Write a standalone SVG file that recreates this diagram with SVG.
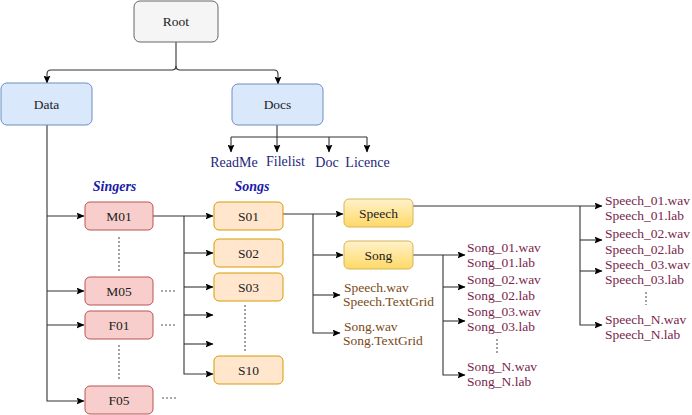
<svg xmlns="http://www.w3.org/2000/svg" width="692" height="415" viewBox="0 0 692 415" font-family="'Liberation Serif', Tinos, 'Times New Roman', 'DejaVu Serif', serif">
<defs>
<marker id="ah" markerWidth="8" markerHeight="7" refX="7.5" refY="3.5" orient="auto" markerUnits="userSpaceOnUse">
<path d="M0,0 L8,3.5 L0,7 L1.5,3.5 z" fill="#000"/>
</marker>
<linearGradient id="yg" x1="0" y1="0" x2="0" y2="1">
<stop offset="0" stop-color="#fff2cc"/>
<stop offset="1" stop-color="#ffd966"/>
</linearGradient>
<style>
text{font-family:'Liberation Serif', Tinos, 'Times New Roman', 'DejaVu Serif', serif}
.c{fill:none;stroke:#333;stroke-width:1.1}
.a{marker-end:url(#ah)}
.d{fill:none;stroke:#555;stroke-width:1.1;stroke-dasharray:2,2}
.t{font-size:13.5px;fill:#222;text-anchor:middle;dominant-baseline:central}
.root{fill:#f5f5f5;stroke:#666;stroke-width:1}
.blue{fill:#dae8fc;stroke:#6c8ebf;stroke-width:1}
.red{fill:#f8cecc;stroke:#b85450;stroke-width:1}
.org{fill:#ffe6cc;stroke:#d79b00;stroke-width:1}
.yel{fill:url(#yg);stroke:#d6b656;stroke-width:1}
.doc{font-size:14px;fill:#1f1f7a;text-anchor:middle}
.hd{font-size:14px;font-weight:bold;font-style:italic;fill:#1a1aa8;text-anchor:middle}
.br{font-size:13.5px;fill:#7a4a16}
.mr{font-size:13.5px;fill:#7a1f4c}
</style>
</defs>

<g id="connectors">
<path class="c a" d="M176,42 V66 Q176,70 172,70 H51 Q47,70 47,74 V83"/>
<path class="c a" d="M176,66 Q176,70 180,70 H274 Q278,70 278,74 V84"/>
<path class="c a" d="M277,125 V152"/>
<path class="c" d="M231,137 H367"/>
<path class="c a" d="M231,137 V152"/>
<path class="c a" d="M329,137 V152"/>
<path class="c a" d="M367,137 V152"/>
<path class="c a" d="M47,125 V401 H84"/>
<path class="c a" d="M47,216 H84"/>
<path class="c a" d="M47,291 H84"/>
<path class="c a" d="M47,325 H84"/>
<path class="c a" d="M153,216 H213"/>
<path class="c a" d="M184,216 V374 H213"/>
<path class="c a" d="M184,253 H213"/>
<path class="c a" d="M184,287 H213"/>
<path class="c a" d="M184,315 H213"/>
<path class="c a" d="M184,344 H213"/>
<path class="c a" d="M283,214 H343"/>
<path class="c a" d="M313,214 V333 H340"/>
<path class="c a" d="M313,255 H343"/>
<path class="c a" d="M313,295 H340"/>
<path class="c a" d="M413,206 H602"/>
<path class="c a" d="M580,206 V325 H602"/>
<path class="c a" d="M580,240 H602"/>
<path class="c a" d="M580,271 H602"/>
<path class="c a" d="M413,255 H465"/>
<path class="c a" d="M443,255 V375 H465"/>
<path class="c a" d="M443,287 H465"/>
<path class="c a" d="M443,321 H465"/>
<path class="d" d="M119,237 V272"/>
<path class="d" d="M119,345 V381"/>
<path class="d" d="M245,305 V352"/>
<path class="d" d="M161,291 H177"/>
<path class="d" d="M161,325 H177"/>
<path class="d" d="M162,398 H178"/>
<path class="d" d="M497,339 V354"/>
<path class="d" d="M646,292 V305"/>
</g>

<g id="root"><rect class="root" x="134" y="1" width="84" height="41" rx="6"/><text class="t" x="176" y="21.5">Root</text></g>
<g id="data"><rect class="blue" x="1" y="83" width="91" height="42" rx="6"/><text class="t" x="46.5" y="104">Data</text></g>
<g id="docs"><rect class="blue" x="232" y="84" width="91" height="41" rx="6"/><text class="t" x="277.5" y="104.5">Docs</text></g>

<g id="docfiles">
<text class="doc" x="234" y="167">ReadMe</text>
<text class="doc" x="285.5" y="166">Filelist</text>
<text class="doc" x="327" y="167">Doc</text>
<text class="doc" x="367.5" y="167">Licence</text>
</g>

<g id="labels">
<text class="hd" x="114.5" y="191">Singers</text>
<text class="hd" x="252" y="191">Songs</text>
</g>

<g id="m01"><rect class="red" x="85" y="202" width="68" height="28" rx="5"/><text class="t" x="119" y="216">M01</text></g>
<g id="m05"><rect class="red" x="85" y="277" width="68" height="28" rx="5"/><text class="t" x="119" y="291">M05</text></g>
<g id="f01"><rect class="red" x="85" y="311" width="68" height="28" rx="5"/><text class="t" x="119" y="325">F01</text></g>
<g id="f05"><rect class="red" x="85" y="386" width="68" height="28" rx="5"/><text class="t" x="119" y="400">F05</text></g>

<g id="s01"><rect class="org" x="214" y="202" width="69" height="28" rx="5"/><text class="t" x="248.5" y="216">S01</text></g>
<g id="s02"><rect class="org" x="214" y="239" width="69" height="28" rx="5"/><text class="t" x="248.5" y="253">S02</text></g>
<g id="s03"><rect class="org" x="214" y="273" width="69" height="28" rx="5"/><text class="t" x="248.5" y="287">S03</text></g>
<g id="s10"><rect class="org" x="214" y="356" width="69" height="28" rx="5"/><text class="t" x="248.5" y="370">S10</text></g>

<g id="speech"><rect class="yel" x="344" y="199" width="69" height="28" rx="5"/><text class="t" x="378.5" y="213">Speech</text></g>
<g id="song"><rect class="yel" x="344" y="241" width="69" height="28" rx="5"/><text class="t" x="378.5" y="255">Song</text></g>

<g id="s01files">
<text class="br" x="344" y="292">Speech.wav</text>
<text class="br" x="343" y="305.5">Speech.TextGrid</text>
<text class="br" x="344" y="331">Song.wav</text>
<text class="br" x="343" y="344.5">Song.TextGrid</text>
</g>

<g id="songfiles">
<text class="mr" x="467" y="252">Song_01.wav</text>
<text class="mr" x="467" y="266.5">Song_01.lab</text>
<text class="mr" x="467" y="284">Song_02.wav</text>
<text class="mr" x="467" y="300">Song_02.lab</text>
<text class="mr" x="467" y="316">Song_03.wav</text>
<text class="mr" x="467" y="331">Song_03.lab</text>
<text class="mr" x="467" y="371">Song_N.wav</text>
<text class="mr" x="467" y="386">Song_N.lab</text>
</g>

<g id="speechfiles">
<text class="mr" x="605" y="204.5">Speech_01.wav</text>
<text class="mr" x="605" y="219.5">Speech_01.lab</text>
<text class="mr" x="605" y="238">Speech_02.wav</text>
<text class="mr" x="605" y="254">Speech_02.lab</text>
<text class="mr" x="605" y="269">Speech_03.wav</text>
<text class="mr" x="605" y="284">Speech_03.lab</text>
<text class="mr" x="605" y="323.5">Speech_N.wav</text>
<text class="mr" x="605" y="338.5">Speech_N.lab</text>
</g>
</svg>
